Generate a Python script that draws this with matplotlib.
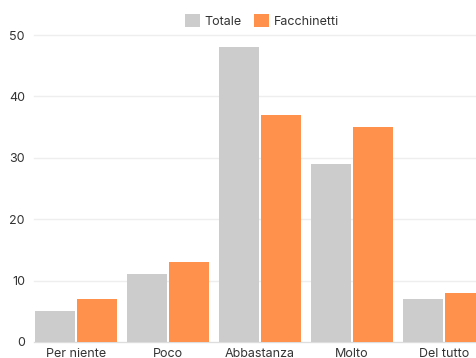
import matplotlib
matplotlib.use("Agg")
import matplotlib.pyplot as plt
import numpy as np

categories = ["Per niente", "Poco", "Abbastanza", "Molto", "Del tutto"]
totale = [5, 11, 48, 29, 7]
facchinetti = [7, 13, 37, 35, 8]
series_names = ["Totale", "Facchinetti"]
colors = ["#cccccc", "#ff914d"]
yticks = [0, 10, 20, 30, 40, 50]

plt.rcParams['font.family'] = ['Inter', 'DejaVu Sans']

W, H = 477, 358
fig = plt.figure(figsize=(W/100, H/100), dpi=100)
# axes spans from px 34 to 490 (right part cropped off), y from 35 to 342
left, right, top, bottom = 34, 490, 35, 342
ax = fig.add_axes([left/W, 1-bottom/H, (right-left)/W, (bottom-top)/H])

x = np.arange(len(categories))
bw = 0.43
gap = 0.03
ax.bar(x - bw/2 - gap/2, totale, width=bw, color=colors[0], label=series_names[0], zorder=3)
ax.bar(x + bw/2 + gap/2, facchinetti, width=bw, color=colors[1], label=series_names[1], zorder=3)

ax.set_xlim(-0.457, -0.457 + (right-left)/92)
ax.set_ylim(0, 50)
ax.set_yticks(yticks)
ax.set_xticks(x)
ax.set_xticklabels(categories)
ax.grid(axis='y', color='#eeeeee', linewidth=1, zorder=0)
for g in ax.get_ygridlines():
    g.set_clip_on(False)
for s in ['top', 'right', 'left']:
    ax.spines[s].set_visible(False)
ax.spines['bottom'].set_color('#dddddd')
ax.tick_params(axis='both', length=0, labelsize=9, colors='#333333')
ax.tick_params(axis='y', pad=6.5)
ax.tick_params(axis='x', pad=4)

leg = ax.legend(loc='lower center', bbox_to_anchor=(0.5, 1.0), ncol=2, frameon=False,
                fontsize=9, handlelength=1.2, handleheight=1.2, handletextpad=0.4,
                columnspacing=1.0, borderaxespad=0.2, labelcolor='#333333')

fig.savefig("out.png", dpi=100)
